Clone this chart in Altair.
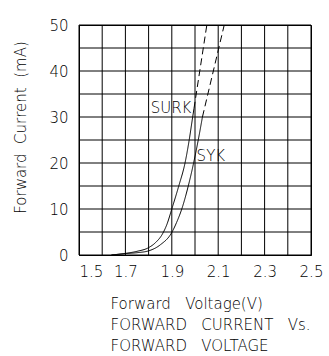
import altair as alt
import pandas as pd

# Curve data (Forward Voltage V, Forward Current mA)
surk_solid_v = [1.64, 1.70, 1.75, 1.80, 1.83, 1.86, 1.88, 1.90, 1.93, 1.957, 1.975, 1.99, 1.9955]
surk_solid_i = [0.0, 0.35, 0.8, 1.6, 2.7, 4.6, 6.8, 10.0, 15.0, 20.0, 25.0, 30.0, 31.8]
surk_dash_v = [1.9955, 2.051]
surk_dash_i = [31.8, 50.0]

syk_solid_v = [1.64, 1.70, 1.75, 1.80, 1.85, 1.90, 1.92, 1.943, 1.971, 1.994, 2.014, 2.032]
syk_solid_i = [0.0, 0.3, 0.5, 0.9, 2.2, 4.9, 7.0, 10.0, 15.0, 20.0, 25.0, 30.0]
syk_dash_v = [2.032, 2.126]
syk_dash_i = [30.0, 50.0]

label_names = ["SURK", "SYK"]
label_v = [1.809, 2.007]
label_i = [30.9, 20.4]

x_grid = [1.5, 1.6, 1.7, 1.8, 1.9, 2.0, 2.1, 2.2, 2.3, 2.4, 2.5]
y_grid = [0, 5, 10, 15, 20, 25, 30, 35, 40, 45, 50]
x_labels = [1.5, 1.7, 1.9, 2.1, 2.3, 2.5]
y_labels = [0, 10, 20, 30, 40, 50]

NB = "\u00a0"
x_title = [
    "Forward" + NB * 3 + "Voltage(V)",
    "FORWARD" + NB * 3 + "CURRENT" + NB * 3 + "Vs.",
    "FORWARD" + NB * 3 + "VOLTAGE",
]
y_title = "Forward" + NB * 2 + "Current" + NB * 2 + "(mA)"

rows = []
for name, seg, vs, is_ in [
    ("SURK", "solid", surk_solid_v, surk_solid_i),
    ("SURK", "dashed", surk_dash_v, surk_dash_i),
    ("SYK", "solid", syk_solid_v, syk_solid_i),
    ("SYK", "dashed", syk_dash_v, syk_dash_i),
]:
    for k, (v, i) in enumerate(zip(vs, is_)):
        rows.append({"v": v, "i": i, "key": name + "-" + seg, "seg": seg, "order": k})
df = pd.DataFrame(rows)
labels = pd.DataFrame({"name": label_names, "v": label_v, "i": label_i})
xg = pd.DataFrame({"v": x_grid})
yg = pd.DataFrame({"i": y_grid})

FONT = "DejaVu Sans"
W = 200

xscale = alt.Scale(domain=[1.5, 2.5], nice=False, zero=False)
yscale = alt.Scale(domain=[0, 50], nice=False)

xenc = alt.X(
    "v:Q",
    scale=xscale,
    axis=alt.Axis(
        values=x_labels,
        format=".1f",
        grid=False,
        ticks=False,
        domainColor="#000000",
        labelFont=FONT,
        labelFontSize=15,
        labelFontWeight=W,
        labelColor="#000000",
        labelPadding=9,
        labelFlush=False,
        labelAlign={"condition": {"test": "datum.value < 1.55", "value": "left"}, "value": "center"},
        title=x_title,
        titleFont=FONT,
        titleFontSize=15,
        titleFontWeight=W,
        titleColor="#000000",
        titleAlign="left",
        titleBaseline="alphabetic",
        titleX=31,
        titleY=53,
        titleLineHeight=21,
    ),
)
yenc = alt.Y(
    "i:Q",
    scale=yscale,
    axis=alt.Axis(
        values=y_labels,
        grid=False,
        ticks=False,
        domainColor="#000000",
        labelFont=FONT,
        labelFontSize=15,
        labelFontWeight=W,
        labelColor="#000000",
        labelPadding=11,
        title=y_title,
        titleFont=FONT,
        titleFontSize=15,
        titleFontWeight=W,
        titleColor="#000000",
        titleBaseline="alphabetic",
        titleX=-54,
        titleY=102,
        titleAngle=270,
    ),
)

vgrid = alt.Chart(xg).mark_rule(color="#000000", strokeWidth=1).encode(
    x=alt.X("v:Q", scale=xscale)
)
hgrid = alt.Chart(yg).mark_rule(color="#000000", strokeWidth=1).encode(
    y=alt.Y("i:Q", scale=yscale)
)

lines = alt.Chart(df).mark_line(color="#000000", strokeWidth=1, interpolate="monotone").encode(
    x=xenc,
    y=yenc,
    detail="key:N",
    order="order:Q",
    strokeDash=alt.StrokeDash(
        "seg:N",
        scale=alt.Scale(domain=["solid", "dashed"], range=[[1, 0], [7, 4]]),
        legend=None,
    ),
)

texts = alt.Chart(labels).mark_text(
    align="left", baseline="alphabetic", font=FONT, fontSize=15, fontWeight=W, color="#000000"
).encode(x="v:Q", y="i:Q", text="name:N")

chart = (
    alt.layer(vgrid, hgrid, lines, texts)
    .properties(
        width=232,
        height=230,
        autosize=alt.AutoSizeParams(type="none"),
        padding={"left": 79, "top": 25, "right": 18, "bottom": 101},
        background="#ffffff",
    )
    .configure_view(stroke="#000000", strokeWidth=1)
)

chart.save("out.html", embed_options={"renderer": "svg", "actions": False})
